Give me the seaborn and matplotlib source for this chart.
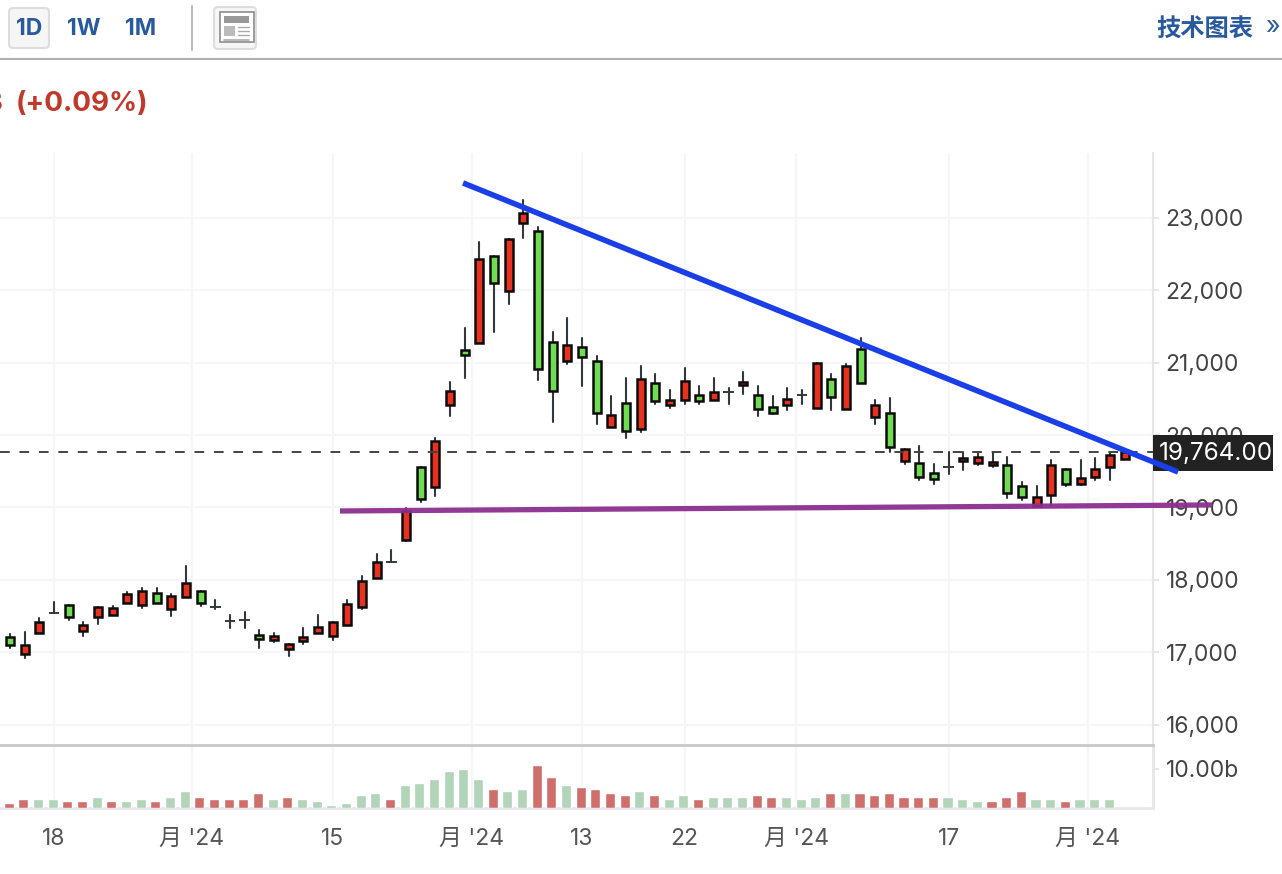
import numpy as np
import pandas as pd
import seaborn as sns
import matplotlib.pyplot as plt
from matplotlib.patches import Rectangle, FancyBboxPatch

# daily candles
opens = [17210,16980,17260,17540,17650,17290,17480,17510,17680,17650,17820,17590,17760,17850,17630,17430,17440,17240,17170,17040,
         17150,17260,17230,17370,17620,18030,18240,18550,19560,19280,20410,21170,21270,22470,21990,22930,22820,21280,21020,21220,
         21030,20110,20450,20080,20720,20410,20490,20560,20490,20590,20690,20560,20390,20410,20550,20380,20780,20360,21190,20250,
         20310,19640,19620,19480,19560,19640,19610,19590,19590,19290,19020,19170,19530,19330,19420,19560,19670]
highs = [17250,17280,17470,17690,17650,17420,17630,17640,17830,17890,17890,17800,18190,17850,17720,17510,17550,17310,17270,17110,
         17330,17520,17410,17720,18050,18360,18410,18990,19560,19960,20730,21480,22670,22470,22710,23250,22880,21430,21620,21340,
         21090,20540,20790,20960,20840,20620,20930,20680,20790,20650,20870,20680,20540,20650,20620,21000,20840,20980,21340,20490,
         20510,19810,19850,19600,19770,19770,19750,19760,19700,19350,19300,19660,19530,19660,19680,19770,19770]
lows = [17060,16920,17260,17540,17440,17230,17390,17510,17680,17610,17680,17500,17760,17640,17590,17330,17330,17060,17140,16950,
        17110,17260,17170,17370,17590,18030,18240,18540,19080,19160,20260,20790,21270,21430,21810,22720,20760,20180,20980,20680,
        20150,20110,19960,20040,20430,20370,20430,20430,20480,20430,20570,20260,20290,20350,20430,20380,20350,20360,20720,20150,
        19770,19600,19380,19320,19460,19520,19580,19560,19130,19100,19010,19030,19300,19310,19380,19380,19670]
closes = [17100,17100,17410,17540,17480,17380,17630,17610,17800,17850,17680,17770,17960,17680,17630,17430,17440,17180,17220,17110,
          17210,17350,17410,17660,17990,18240,18240,18950,19110,19920,20610,21100,22440,22100,22710,23070,20910,20610,21250,21080,
          20300,20280,20050,20780,20470,20480,20750,20470,20590,20590,20730,20360,20300,20500,20550,21000,20520,20950,20720,20420,
          19830,19810,19420,19390,19560,19680,19700,19630,19200,19140,19150,19590,19330,19400,19530,19730,19764]

# volume in billions, no bar for the last day
volumes = [1.28,2.31,2.31,2.31,1.79,1.79,2.82,1.79,1.79,2.31,1.79,2.82,4.36,2.82,2.31,2.31,2.31,3.85,2.31,2.82,
           2.31,1.79,0.77,1.28,3.33,3.85,2.31,5.9,6.41,7.44,9.49,10.0,7.44,4.87,4.36,4.87,11.03,7.95,5.9,5.38,
           4.87,3.85,3.33,4.36,3.33,2.31,3.33,2.31,2.82,2.82,2.82,3.33,2.82,2.82,2.31,2.82,3.85,3.85,3.85,3.33,
           3.85,2.82,2.82,2.82,2.82,2.31,1.79,1.79,2.82,4.36,2.31,2.31,1.79,2.31,2.31,2.31]
vol_sides = ["r","r","g","g","r","r","g","r","g","g","r","g","g","r","r","r","r","r","g","r",
             "g","g","g","g","g","g","r","g","g","g","g","g","g","r","g","g","r","r","g","r",
             "r","r","r","g","r","g","g","r","g","g","g","r","r","g","g","g","r","g","r","r",
             "r","r","r","r","g","g","g","r","r","r","g","g","r","g","g","g"]

x_ticks = [3, 12.4, 22, 31.5, 39, 46, 53.6, 64, 73.5]
x_labels = ["18", "月 '24", "15", "月 '24", "13", "22", "月 '24", "17", "月 '24"]
price_ticks = [16000, 17000, 18000, 19000, 20000, 21000, 22000, 23000]
last_price = 19764

# hand drawn trend lines
blue_x, blue_y = [30.89, 79.64], [23484, 19490]
purple_x, purple_y = [22.5, 81.95], [18951, 19034]

sns.set_theme(style="white")
plt.rcParams["font.family"] = ["Inter", "Noto Sans CJK SC", "DejaVu Sans"]

RED, GREEN = "#e8321f", "#6fdc54"
VOL_RED, VOL_GREEN = "#cf6f6c", "#b2d4b8"
GRID, AXIS = "#f6f6f8", "#e4e6ec"
BLUE_UI = "#2a5a9e"
W, H = 1282, 874

df = pd.DataFrame({"i": range(len(opens)), "open": opens, "high": highs, "low": lows, "close": closes})
wicks = df.melt(id_vars="i", value_vars=["high", "low"], value_name="price")
vol = pd.DataFrame({"i": np.arange(len(volumes)) - 0.09, "vol": volumes, "side": vol_sides})

fig = plt.figure(figsize=(W / 100, H / 100), dpi=100)
ax_vol = fig.add_axes([0, (H - 808) / H, 1153 / W, 63 / H])
ax = fig.add_axes([0, (H - 745) / H, 1153 / W, 592 / H])

# candles
sns.lineplot(data=wicks, x="i", y="price", units="i", estimator=None, sort=False,
             color="#33383c", linewidth=1.5, ax=ax, zorder=2)
real = df[df["open"] != df["close"]]
ax.bar(real["i"], (real["close"] - real["open"]).abs(), bottom=real[["open", "close"]].min(axis=1),
       width=0.56, color=[RED if c > o else GREEN for o, c in zip(real["open"], real["close"])],
       edgecolor="#0c0c0c", linewidth=1.8, zorder=3)
doji = df[df["open"] == df["close"]]
ax.hlines(doji["open"], doji["i"] - 0.36, doji["i"] + 0.36, color="#33383c", linewidth=1.4, zorder=3)

ax.set_xlim(-0.682, 77.93)
ax.set_ylim(15717, 23898)
ax.set_xticks(x_ticks)
ax.set_yticks(price_ticks)
ax.set_yticklabels([f"{p:,}" for p in price_ticks])
ax.tick_params(axis="x", length=0, labelbottom=False)
ax.tick_params(axis="y", right=True, left=False, labelright=True, labelleft=False, length=4,
               width=1.4, color=AXIS, pad=5, labelsize=16.5, labelcolor="#444444")
ax.grid(True, color=GRID, linewidth=1.5)
ax.set_axisbelow(True)
ax.set_xlabel("")
ax.set_ylabel("")
for side in ["top", "left"]:
    ax.spines[side].set_visible(False)
ax.spines["right"].set_color(AXIS)
ax.spines["right"].set_linewidth(1.5)
ax.spines["bottom"].set_color("#c8c8c8")
ax.spines["bottom"].set_linewidth(2)

# last price marker
ax.axhline(last_price, color="#444444", linewidth=1.4, linestyle=(0, (5, 5)), dash_capstyle="butt", zorder=4)
ax.add_patch(Rectangle((1, 19504), 120 / 1153, 497, transform=ax.get_yaxis_transform(),
                       facecolor="#222222", edgecolor="none", clip_on=False, zorder=5))
ax.text(1 + 6 / 1153, last_price - 25, f"{last_price:,.2f}", transform=ax.get_yaxis_transform(),
        color="white", fontsize=17.5, va="center", ha="left", clip_on=False, zorder=5.5)

ax.plot(blue_x, blue_y, color="#1a3fe8", linewidth=4, clip_on=False, zorder=6, solid_capstyle="butt")
ax.plot(purple_x, purple_y, color="#8b2f8f", linewidth=3.8, alpha=0.95, clip_on=False, zorder=6, solid_capstyle="butt")

# volume
sns.barplot(data=vol, x="i", y="vol", hue="side", palette={"r": VOL_RED, "g": VOL_GREEN}, native_scale=True,
            dodge=False, width=0.7, saturation=1, legend=False, ax=ax_vol, zorder=3)
ax_vol.set_xlim(-0.682, 77.93)
ax_vol.set_ylim(0, 16.15)
ax_vol.set_xticks(x_ticks)
ax_vol.set_xticklabels(x_labels)
ax_vol.set_yticks([10])
ax_vol.set_yticklabels(["10.00b"])
ax_vol.tick_params(axis="x", length=8.5, width=1.5, color=AXIS, pad=6, labelsize=16.5, labelcolor="#555555")
ax_vol.tick_params(axis="y", right=True, left=False, labelright=True, labelleft=False, length=4,
                   width=1.4, color=AXIS, pad=5, labelsize=16.5, labelcolor="#444444")
ax_vol.xaxis.grid(True, color=GRID, linewidth=1.5)
ax_vol.set_axisbelow(True)
ax_vol.set_xlabel("")
ax_vol.set_ylabel("")
for side in ["top", "left"]:
    ax_vol.spines[side].set_visible(False)
for side in ["right", "bottom"]:
    ax_vol.spines[side].set_color(AXIS)
    ax_vol.spines[side].set_linewidth(2)

# page header around the chart, in pixel coordinates
ui = fig.add_axes([0, 0, 1, 1], zorder=10)
ui.set_xlim(0, W)
ui.set_ylim(H, 0)
ui.axis("off")
ui.add_patch(FancyBboxPatch((9, 8), 40, 40, boxstyle="round,pad=0,rounding_size=4",
                            facecolor="#f6f6f6", edgecolor="#dddddd", linewidth=1.5))
for label, cx in zip(["1D", "1W", "1M"], [29, 84, 141]):
    ui.text(cx, 29, label, color=BLUE_UI, fontsize=16.5, fontweight="bold", ha="center", va="center")
ui.plot([192, 192], [6, 50], color="#bbbbbb", linewidth=1.5)
ui.add_patch(FancyBboxPatch((214, 7), 42, 42, boxstyle="round,pad=0,rounding_size=4",
                            facecolor="#f6f6f6", edgecolor="#dddddd", linewidth=1.5))
ui.add_patch(Rectangle((220, 12), 34, 30, facecolor="white", edgecolor="#8c8c8c", linewidth=1.2))
ui.add_patch(Rectangle((224, 16), 25, 7, facecolor="#999999", edgecolor="none"))
ui.add_patch(Rectangle((224, 26), 11, 10, facecolor="#bbbbbb", edgecolor="none"))
for y in [27, 31, 35]:
    ui.plot([238, 249], [y, y], color="#aaaaaa", linewidth=1)
ui.plot([224, 249], [39.5, 39.5], color="#aaaaaa", linewidth=1.2)
ui.plot([0, W], [59, 59], color="#b0b0b0", linewidth=1.5)
ui.text(1253, 29, "技术图表", color=BLUE_UI, fontsize=17.5, fontweight="bold", ha="right", va="center")
ui.text(1272, 28, "»", color=BLUE_UI, fontsize=18, ha="center", va="center")
ui.text(148, 104, "(+0.09%)", color="#c0392b", fontsize=20, fontweight="bold", ha="right", va="center")
ui.text(3, 104, "3", color="#c0392b", fontsize=20, fontweight="bold", ha="right", va="center")

fig.savefig("out.png", dpi=100)
plt.close()
